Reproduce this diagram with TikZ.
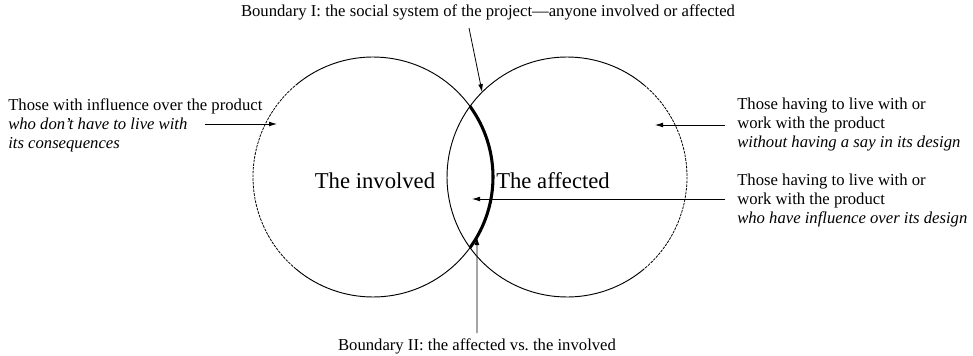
\documentclass[tikz,border=0pt]{standalone}
\usepackage{fontspec}
\setmainfont{Liberation Serif}
\usetikzlibrary{arrows.meta}

\tikzset{
  note/.style={font=\fontsize{12.5}{14.25}\selectfont, align=left, inner sep=0pt},
  bigtag/.style={font=\fontsize{17}{20}\selectfont, inner sep=0pt},
  pointer/.style={-{Latex[length=6pt,width=3.6pt]}, line width=0.6pt},
  rim/.style={line width=0.7pt},
  outerrim/.style={line width=0.6pt, dash pattern=on 2pt off 0.8pt},
}

\begin{document}
\begin{tikzpicture}[x=0.75pt, y=-0.75pt]
\useasboundingbox (0,0) rectangle (973,356);

\def\rad{120}
\def\cy{177}
\def\lx{373}
\def\rx{567}
\pgfmathsetmacro{\half}{(\rx-\lx)/2}
\pgfmathsetmacro{\cut}{acos(\half/\rad)}

% the two circles, outer sides dashed
\draw[rim] (\lx,\cy) ++(-130:\rad) arc[start angle=-130, end angle=130, radius=\rad];
\draw[outerrim] (\lx,\cy) ++(130:\rad) arc[start angle=130, end angle=230, radius=\rad];
\draw[rim] (\rx,\cy) ++(50:\rad) arc[start angle=50, end angle=310, radius=\rad];
\draw[outerrim] (\rx,\cy) ++(-50:\rad) arc[start angle=-50, end angle=50, radius=\rad];

% boundary between affected and involved
\draw[line width=2.3pt] (\lx,\cy) ++(-\cut:\rad) arc[start angle=-\cut, end angle=\cut, radius=\rad];

\node[bigtag] (involved) at (375,181) {The involved};
\node[bigtag] (affected) at (553,181) {The affected};

\node[note, anchor=base] (bndI) at (488,17) {Boundary I: the social system of the project---anyone involved or affected};
\node[note, anchor=base] (bndII) at (477,350) {Boundary II: the affected vs.\ the involved};

\node[note, anchor=north west] (infl) at (8,98) {Those with influence over the product\\
  \textit{who don't have to live with}\\
  \textit{its consequences}};
\node[note, anchor=north west] (livers) at (737,98) {Those having to live with or\\
  work with the product\\
  \textit{without having a say in its design}};
\node[note, anchor=north west] (users) at (737,174) {Those having to live with or\\
  work with the product\\
  \textit{who have influence over its design}};

\coordinate (fromI) at (469,28);
\coordinate (tipI) at ([shift={(225:\rad)}]\rx,\cy);
\coordinate (fromII) at (477,333);
\coordinate (tipII) at ([shift={(30:\rad)}]\lx,\cy);
\coordinate (fromInfl) at (205,124);
\coordinate (tipInfl) at (277,124);
\coordinate (fromLivers) at (725,125);
\coordinate (tipLivers) at (655,125);
\coordinate (fromUsers) at (725,199);
\coordinate (tipUsers) at (472,199);

\draw[pointer] (fromI) -- (tipI);
\draw[pointer] (fromII) -- (tipII);
\draw[pointer] (fromInfl) -- (tipInfl);
\draw[pointer] (fromLivers) -- (tipLivers);
\draw[pointer] (fromUsers) -- (tipUsers);
\end{tikzpicture}
\end{document}
